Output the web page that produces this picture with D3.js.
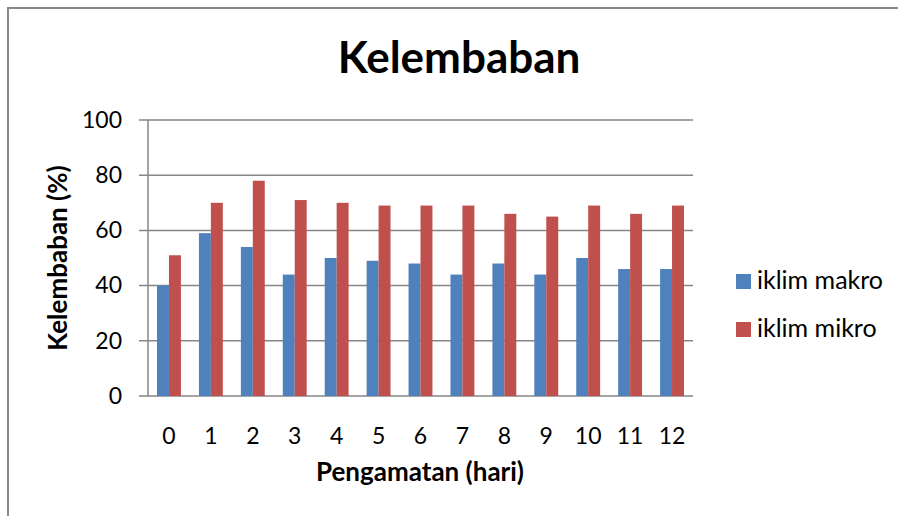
<!DOCTYPE html>
<html>
<head>
<meta charset="utf-8">
<script src="https://cdn.jsdelivr.net/npm/d3@7"></script>
<style>
body{margin:0;background:#fff;}
text{font-family:Lato,"Open Sans",sans-serif;fill:#000;}
</style>
</head>
<body>
<div id="root"></div>
<script>
// data
var days=['0','1','2','3','4','5','6','7','8','9','10','11','12'];
var makro=[40,59,54,44,50,49,48,44,48,44,50,46,46];
var mikro=[51,70,78,71,70,69,69,69,66,65,69,66,69];
var seriesNames=['iklim makro','iklim mikro'];
var yTicks=[0,20,40,60,80,100];

var W=898,H=516;
var margin={t:120,r:205,b:120,l:148};
var w=W-margin.l-margin.r, h=H-margin.t-margin.b;
var colors=['#4F81BD','#C0504D'];

var svg=d3.select('#root').append('svg').attr('width',W).attr('height',H);

// outer frame (only top and left visible)
svg.append('path').attr('d','M8,'+H+'V8H'+W).attr('fill','none').attr('stroke','#888').attr('stroke-width',2);

var g=svg.append('g').attr('transform','translate('+margin.l+','+margin.t+')');

var x=d3.scaleBand().domain(days).range([0,w]).paddingInner(0.43).paddingOuter(0.215);
var xs=d3.scaleBand().domain(seriesNames).range([0,x.bandwidth()]);
var y=d3.scaleLinear().domain([0,100]).range([h,0]);

// gridlines
g.selectAll('.grid').data(yTicks).enter().append('line')
  .attr('x1',-9).attr('x2',w).attr('y1',function(d){return y(d)}).attr('y2',function(d){return y(d)})
  .attr('stroke','#868686').attr('stroke-width',1.5);

var rows=days.map(function(d,i){return {day:d,vals:[makro[i],mikro[i]]}});
var grp=g.selectAll('.day').data(rows).enter().append('g')
  .attr('transform',function(d){return 'translate('+x(d.day)+',0)'});
grp.selectAll('rect').data(function(d){return d.vals.map(function(v,i){return {k:seriesNames[i],v:v,i:i}})}).enter().append('rect')
  .attr('x',function(d){return xs(d.k)}).attr('width',xs.bandwidth())
  .attr('y',function(d){return y(d.v)}).attr('height',function(d){return h-y(d.v)})
  .attr('fill',function(d){return colors[d.i]});

// y axis line
g.append('line').attr('x1',0).attr('x2',0).attr('y1',0).attr('y2',h).attr('stroke','#868686').attr('stroke-width',1.5);

var yAxis=d3.axisLeft(y).tickValues(yTicks).tickSize(0).tickPadding(26);
var ya=g.append('g').call(yAxis);
ya.select('.domain').remove();
ya.selectAll('text').attr('font-size',23).attr('font-family','Lato, sans-serif').attr('fill','#000');

var xAxis=d3.axisBottom(x).tickSize(0).tickPadding(32);
var xa=g.append('g').attr('transform','translate(0,'+h+')').call(xAxis);
xa.select('.domain').remove();
xa.selectAll('text').attr('font-size',23).attr('font-family','Lato, sans-serif').attr('fill','#000');

// titles
svg.append('text').attr('x',459).attr('y',73).attr('text-anchor','middle')
  .attr('font-size',44).attr('font-weight','bold').text('Kelembaban');
svg.append('text').attr('x',420).attr('y',481).attr('text-anchor','middle')
  .attr('font-size',26).attr('font-weight','bold').text('Pengamatan (hari)');
svg.append('text').attr('transform','translate(67,258) rotate(-90)').attr('text-anchor','middle')
  .attr('font-size',26).attr('font-weight','bold').text('Kelembaban (%)');

// legend
var leg=svg.selectAll('.leg').data(seriesNames).enter().append('g')
  .attr('transform',function(d,i){return 'translate(736,'+(274+i*48)+')'});
leg.append('rect').attr('width',15).attr('height',15).attr('fill',function(d,i){return colors[i]});
leg.append('text').attr('x',21).attr('y',15).attr('font-size',25).text(function(d){return d});
</script>
</body>
</html>
